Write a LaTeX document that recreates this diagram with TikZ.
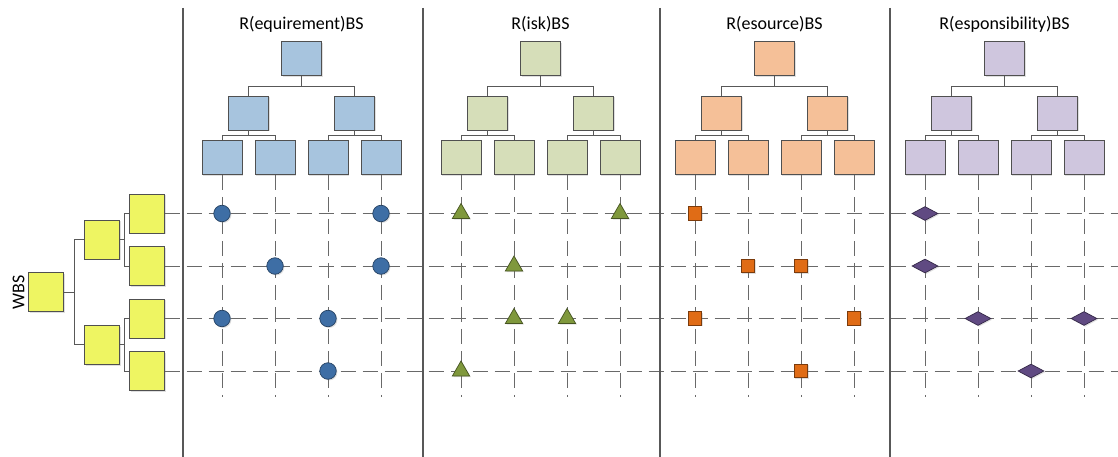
\documentclass[tikz,border=0pt]{standalone}
\usepackage{fontspec}
\setmainfont{Carlito}
\usepackage{tikz}
\usetikzlibrary{shapes,shapes.geometric,shadows}
\definecolor{reqfill}{RGB}{167,196,222}
\definecolor{riskfill}{RGB}{214,222,185}
\definecolor{resfill}{RGB}{245,192,152}
\definecolor{respfill}{RGB}{207,198,222}
\definecolor{wbsfill}{RGB}{238,245,98}
\definecolor{boxline}{RGB}{80,80,80}
\definecolor{linegray}{RGB}{88,88,88}
\definecolor{reqdot}{RGB}{62,110,165}
\definecolor{riskdot}{RGB}{127,152,60}
\definecolor{resdot}{RGB}{224,108,22}
\definecolor{respdot}{RGB}{96,74,130}

\begin{document}
\begin{tikzpicture}[x=1pt,y=-1pt]
\tikzstyle{every node}=[font=\fontsize{18}{20}\selectfont]
\tikzstyle{shade}=[drop shadow={shadow xshift=1.2pt,shadow yshift=-1.2pt,opacity=0.25}]
\tikzstyle{box}=[draw=boxline,line width=0.8pt,inner sep=0pt,minimum width=40pt,minimum height=34pt,shade]
\tikzstyle{reqbox}=[box,fill=reqfill]
\tikzstyle{riskbox}=[box,fill=riskfill]
\tikzstyle{resbox}=[box,fill=resfill]
\tikzstyle{respbox}=[box,fill=respfill]
\tikzstyle{wbsbox}=[box,fill=wbsfill,minimum width=35pt,minimum height=39pt]
\tikzstyle{title}=[anchor=base,inner sep=0pt]
\tikzstyle{treeline}=[draw=linegray,line width=0.9pt]
\tikzstyle{gridline}=[draw=linegray!90,line width=0.9pt,dash pattern=on 15pt off 7pt]
\tikzstyle{sepline}=[draw=linegray,line width=2pt]
\tikzstyle{reqmark}=[circle,draw=reqdot!60!black,fill=reqdot,line width=0.7pt,minimum size=16.5pt,inner sep=0pt,shade]
\tikzstyle{riskmark}=[regular polygon,regular polygon sides=3,draw=riskdot!55!black,fill=riskdot,line width=0.7pt,minimum size=20pt,inner sep=0pt,shade]
\tikzstyle{resmark}=[rectangle,draw=resdot!55!black,fill=resdot,line width=0.7pt,minimum size=13.5pt,inner sep=0pt,shade]
\tikzstyle{respmark}=[diamond,draw=respdot!55!black,fill=respdot,line width=0.7pt,minimum width=26pt,minimum height=14pt,inner sep=0pt,shade]
\useasboundingbox (0,0) rectangle (1118,457);
\coordinate (rgt) at (1118,0);
\coordinate (bot) at (0,397);

% WBS
\node [wbsbox] (wbs) at (45.8,292.3) {};
\node [wbsbox] (wbsU) at (101.8,239.7) {};
\node [wbsbox] (wbsD) at (101.8,344.8) {};
\node [wbsbox] (wbs1) at (146.8,213.5) {};
\node [wbsbox] (wbs2) at (146.8,266) {};
\node [wbsbox] (wbs3) at (146.8,318.5) {};
\node [wbsbox] (wbs4) at (146.8,371) {};
\node [rotate=90] (wbslabel) at (18.5,292) {WBS};
\draw [treeline] (wbs.east) -- ++(10.5,0) |- (wbsU.west);
\draw [treeline] (wbs.east) -- ++(10.5,0) |- (wbsD.west);
\draw [treeline] (wbsU.east) -- ++(5,0) |- (wbs1.west);
\draw [treeline] (wbsU.east) -- ++(5,0) |- (wbs2.west);
\draw [treeline] (wbsD.east) -- ++(5,0) |- (wbs3.west);
\draw [treeline] (wbsD.east) -- ++(5,0) |- (wbs4.west);

% R(equirement)BS
\node [title] (reqtitle) at (301.5,30) {R(equirement)BS};
\node [reqbox] (req) at (301.5,58.5) {};
\node [reqbox] (reqL) at (248.5,113) {};
\node [reqbox] (reqR) at (354.5,113) {};
\node [reqbox] (req1) at (222,157.5) {};
\node [reqbox] (req2) at (275,157.5) {};
\node [reqbox] (req3) at (328,157.5) {};
\node [reqbox] (req4) at (381,157.5) {};
\draw [treeline] (req.south) -- ++(0,11) -| (reqL.north);
\draw [treeline] (req.south) -- ++(0,11) -| (reqR.north);
\draw [treeline] (reqL.south) -- ++(0,5) -| (req1.north);
\draw [treeline] (reqL.south) -- ++(0,5) -| (req2.north);
\draw [treeline] (reqR.south) -- ++(0,5) -| (req3.north);
\draw [treeline] (reqR.south) -- ++(0,5) -| (req4.north);

% R(isk)BS
\node [title] (risktitle) at (540.5,30) {R(isk)BS};
\node [riskbox] (risk) at (540.5,58.5) {};
\node [riskbox] (riskL) at (487.5,113) {};
\node [riskbox] (riskR) at (593.5,113) {};
\node [riskbox] (risk1) at (461,157.5) {};
\node [riskbox] (risk2) at (514,157.5) {};
\node [riskbox] (risk3) at (567,157.5) {};
\node [riskbox] (risk4) at (620,157.5) {};
\draw [treeline] (risk.south) -- ++(0,11) -| (riskL.north);
\draw [treeline] (risk.south) -- ++(0,11) -| (riskR.north);
\draw [treeline] (riskL.south) -- ++(0,5) -| (risk1.north);
\draw [treeline] (riskL.south) -- ++(0,5) -| (risk2.north);
\draw [treeline] (riskR.south) -- ++(0,5) -| (risk3.north);
\draw [treeline] (riskR.south) -- ++(0,5) -| (risk4.north);

% R(esource)BS
\node [title] (restitle) at (774.5,30) {R(esource)BS};
\node [resbox] (res) at (774.5,58.5) {};
\node [resbox] (resL) at (721.5,113) {};
\node [resbox] (resR) at (827.5,113) {};
\node [resbox] (res1) at (695,157.5) {};
\node [resbox] (res2) at (748,157.5) {};
\node [resbox] (res3) at (801,157.5) {};
\node [resbox] (res4) at (854,157.5) {};
\draw [treeline] (res.south) -- ++(0,11) -| (resL.north);
\draw [treeline] (res.south) -- ++(0,11) -| (resR.north);
\draw [treeline] (resL.south) -- ++(0,5) -| (res1.north);
\draw [treeline] (resL.south) -- ++(0,5) -| (res2.north);
\draw [treeline] (resR.south) -- ++(0,5) -| (res3.north);
\draw [treeline] (resR.south) -- ++(0,5) -| (res4.north);

% R(esponsibility)BS
\node [title] (resptitle) at (1004.5,30) {R(esponsibility)BS};
\node [respbox] (resp) at (1004.5,58.5) {};
\node [respbox] (respL) at (951.5,113) {};
\node [respbox] (respR) at (1057.5,113) {};
\node [respbox] (resp1) at (925,157.5) {};
\node [respbox] (resp2) at (978,157.5) {};
\node [respbox] (resp3) at (1031,157.5) {};
\node [respbox] (resp4) at (1084,157.5) {};
\draw [treeline] (resp.south) -- ++(0,11) -| (respL.north);
\draw [treeline] (resp.south) -- ++(0,11) -| (respR.north);
\draw [treeline] (respL.south) -- ++(0,5) -| (resp1.north);
\draw [treeline] (respL.south) -- ++(0,5) -| (resp2.north);
\draw [treeline] (respR.south) -- ++(0,5) -| (resp3.north);
\draw [treeline] (respR.south) -- ++(0,5) -| (resp4.north);

% grid
\draw [gridline] (wbs1.east) -- (wbs1.east -| rgt);
\draw [gridline] (wbs2.east) -- (wbs2.east -| rgt);
\draw [gridline] (wbs3.east) -- (wbs3.east -| rgt);
\draw [gridline] (wbs4.east) -- (wbs4.east -| rgt);
\draw [gridline] (req1.south) -- (req1.south |- bot);
\draw [gridline] (req2.south) -- (req2.south |- bot);
\draw [gridline] (req3.south) -- (req3.south |- bot);
\draw [gridline] (req4.south) -- (req4.south |- bot);
\draw [gridline] (risk1.south) -- (risk1.south |- bot);
\draw [gridline] (risk2.south) -- (risk2.south |- bot);
\draw [gridline] (risk3.south) -- (risk3.south |- bot);
\draw [gridline] (risk4.south) -- (risk4.south |- bot);
\draw [gridline] (res1.south) -- (res1.south |- bot);
\draw [gridline] (res2.south) -- (res2.south |- bot);
\draw [gridline] (res3.south) -- (res3.south |- bot);
\draw [gridline] (res4.south) -- (res4.south |- bot);
\draw [gridline] (resp1.south) -- (resp1.south |- bot);
\draw [gridline] (resp2.south) -- (resp2.south |- bot);
\draw [gridline] (resp3.south) -- (resp3.south |- bot);
\draw [gridline] (resp4.south) -- (resp4.south |- bot);
\draw [sepline] (183,8) -- (183,457);
\draw [sepline] (422.5,8) -- (422.5,457);
\draw [sepline] (660,8) -- (660,457);
\draw [sepline] (890,8) -- (890,457);

% marks
\node [reqmark] (reqm11) at (req1 |- wbs1) {};
\node [reqmark] (reqm41) at (req4 |- wbs1) {};
\node [reqmark] (reqm22) at (req2 |- wbs2) {};
\node [reqmark] (reqm42) at (req4 |- wbs2) {};
\node [reqmark] (reqm13) at (req1 |- wbs3) {};
\node [reqmark] (reqm33) at (req3 |- wbs3) {};
\node [reqmark] (reqm34) at (req3 |- wbs4) {};
\node [riskmark] (riskm11) at (risk1 |- wbs1) {};
\node [riskmark] (riskm41) at (risk4 |- wbs1) {};
\node [riskmark] (riskm22) at (risk2 |- wbs2) {};
\node [riskmark] (riskm23) at (risk2 |- wbs3) {};
\node [riskmark] (riskm33) at (risk3 |- wbs3) {};
\node [riskmark] (riskm14) at (risk1 |- wbs4) {};
\node [resmark] (resm11) at (res1 |- wbs1) {};
\node [resmark] (resm22) at (res2 |- wbs2) {};
\node [resmark] (resm32) at (res3 |- wbs2) {};
\node [resmark] (resm13) at (res1 |- wbs3) {};
\node [resmark] (resm43) at (res4 |- wbs3) {};
\node [resmark] (resm34) at (res3 |- wbs4) {};
\node [respmark] (respm11) at (resp1 |- wbs1) {};
\node [respmark] (respm12) at (resp1 |- wbs2) {};
\node [respmark] (respm23) at (resp2 |- wbs3) {};
\node [respmark] (respm43) at (resp4 |- wbs3) {};
\node [respmark] (respm34) at (resp3 |- wbs4) {};
\end{tikzpicture}
\end{document}
